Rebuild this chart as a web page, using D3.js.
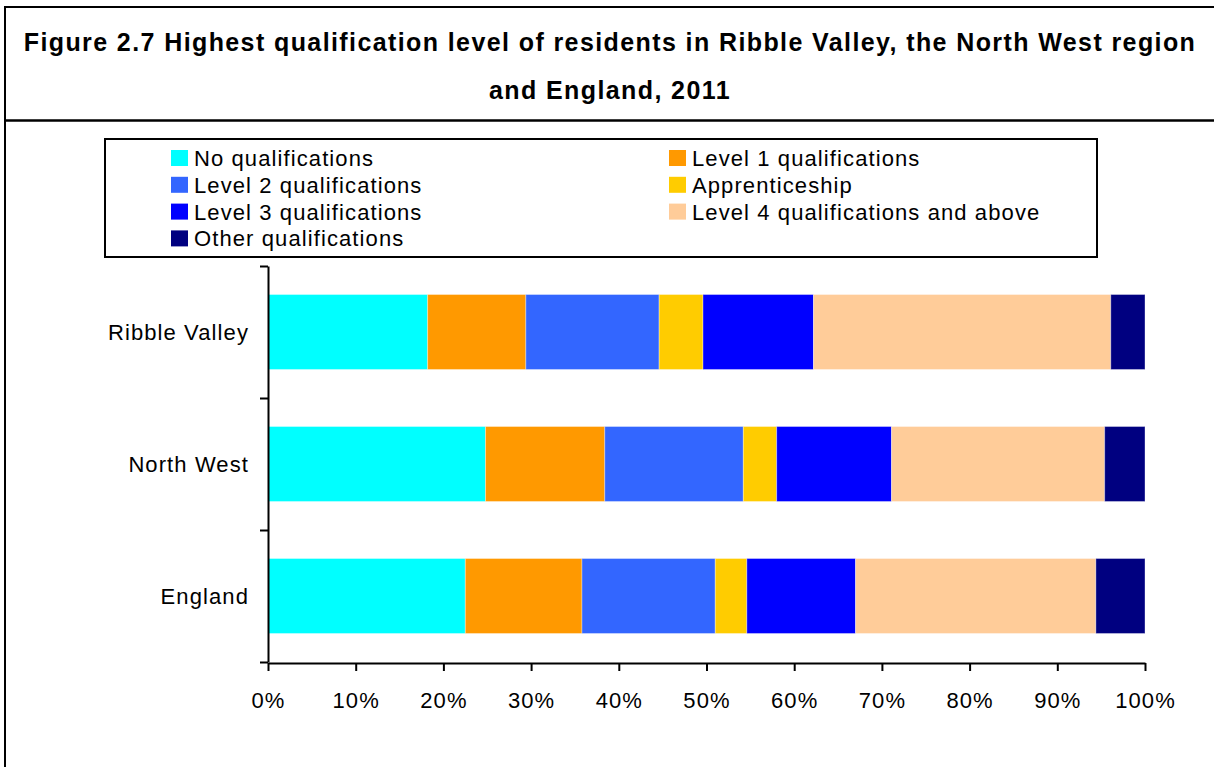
<!DOCTYPE html>
<html>
<head>
<meta charset="utf-8">
<script src="https://cdn.jsdelivr.net/npm/d3@7"></script>
<style>
  body { margin: 0; background: #fff; }
  svg { display: block; font-family: "Liberation Sans", Arial, sans-serif; }
  .lbl { font-size: 22px; letter-spacing: 1.1px; fill: #000; }
</style>
</head>
<body>
<svg width="1214" height="767"></svg>
<script>
var areas = ["Ribble Valley", "North West", "England"];

var noQual    = [18.2, 24.8, 22.5];
var level1    = [11.2, 13.6, 13.3];
var level2    = [15.2, 15.8, 15.2];
var apprentic = [5.0, 3.8, 3.6];
var level3    = [12.6, 13.1, 12.4];
var level4    = [33.9, 24.3, 27.4];
var otherQual = [3.9, 4.6, 5.6];

var seriesNames = ["No qualifications", "Level 1 qualifications", "Level 2 qualifications",
                   "Apprenticeship", "Level 3 qualifications", "Level 4 qualifications and above",
                   "Other qualifications"];
var seriesColors = ["#00ffff", "#ff9900", "#3366ff", "#ffcc00", "#0000ff", "#ffcc99", "#000080"];
var xTicks = [0, 10, 20, 30, 40, 50, 60, 70, 80, 90, 100];

var titleLines = ["Figure 2.7 Highest qualification level of residents in Ribble Valley, the North West region",
                  "and England, 2011"];

var allSeries = [noQual, level1, level2, apprentic, level3, level4, otherQual];

// rows for d3.stack
var rows = areas.map(function(a, i) {
  var r = {area: a};
  seriesNames.forEach(function(s, j) { r[s] = allSeries[j][i]; });
  return r;
});

var svg = d3.select("svg");

// frame
svg.append("rect")
  .attr("x", 5).attr("y", 7)
  .attr("width", 1220).attr("height", 780)
  .attr("fill", "none").attr("stroke", "#000").attr("stroke-width", 2);
svg.append("line")
  .attr("x1", 5).attr("x2", 1214).attr("y1", 120.5).attr("y2", 120.5)
  .attr("stroke", "#000").attr("stroke-width", 2.5);

svg.selectAll(".title")
  .data(titleLines)
  .enter().append("text")
    .attr("class", "title")
    .attr("x", 610)
    .attr("y", function(d, i) { return 51 + i * 48; })
    .attr("text-anchor", "middle")
    .style("font-size", "25px")
    .style("font-weight", "bold")
    .style("letter-spacing", "1.4px")
    .text(function(d) { return d; });

// scales
var x = d3.scaleLinear().domain([0, 100]).range([268, 1145]);
var y = d3.scaleBand().domain(areas).range([266, 662])
          .paddingInner(0.432).paddingOuter(0.216);
var yEdge = d3.scaleLinear().domain([0, areas.length]).range([266, 662]);

var stack = d3.stack().keys(seriesNames);
var layers = stack(rows);

svg.append("g")
  .selectAll("g")
  .data(layers)
  .enter().append("g")
    .attr("fill", function(d, i) { return seriesColors[i]; })
  .selectAll("rect")
  .data(function(d) { return d; })
  .enter().append("rect")
    .attr("x", function(d) { return x(d[0]); })
    .attr("width", function(d) { return x(d[1]) - x(d[0]); })
    .attr("y", function(d) { return y(d.data.area); })
    .attr("height", y.bandwidth())
    .attr("stroke", "rgba(255,255,255,0.35)")
    .attr("stroke-width", 1);

// y axis: ticks between categories
var yAxis = svg.append("g")
  .attr("transform", "translate(268,0)")
  .call(d3.axisLeft(yEdge).tickValues(d3.range(areas.length + 1)).tickFormat("").tickSize(8).tickSizeOuter(0));
yAxis.selectAll("path, line").attr("stroke", "#000").attr("stroke-width", 2);

svg.selectAll(".cat")
  .data(areas)
  .enter().append("text")
    .attr("class", "lbl")
    .attr("x", 249)
    .attr("y", function(d) { return y(d) + y.bandwidth() / 2 + 8; })
    .attr("text-anchor", "end")
    .text(function(d) { return d; });

// x axis
var xAxis = svg.append("g")
  .attr("transform", "translate(0,663)")
  .call(d3.axisBottom(x).tickValues(xTicks).tickFormat(function(d) { return d + "%"; })
          .tickSize(8).tickSizeOuter(0));
xAxis.select(".domain").attr("stroke", "#000").attr("stroke-width", 2);
xAxis.selectAll(".tick line").attr("stroke", "#000").attr("stroke-width", 2);
xAxis.selectAll(".tick text")
  .attr("class", "lbl")
  .attr("dy", null)
  .attr("y", 45);

// legend
var lg = svg.append("g");
lg.append("rect")
  .attr("x", 105).attr("y", 139).attr("width", 992).attr("height", 118)
  .attr("fill", "#fff").attr("stroke", "#000").attr("stroke-width", 2);

var legendItems = lg.selectAll(".item")
  .data(seriesNames)
  .enter().append("g")
    .attr("transform", function(d, i) {
      var col = i % 2, row = Math.floor(i / 2);
      return "translate(" + (col === 0 ? 171 : 669) + "," + (150 + row * 26.8) + ")";
    });
legendItems.append("rect")
  .attr("width", 17).attr("height", 16)
  .attr("fill", function(d, i) { return seriesColors[i]; });
legendItems.append("text")
  .attr("class", "lbl")
  .attr("x", 23).attr("y", 16)
  .text(function(d) { return d; });
</script>
</body>
</html>
